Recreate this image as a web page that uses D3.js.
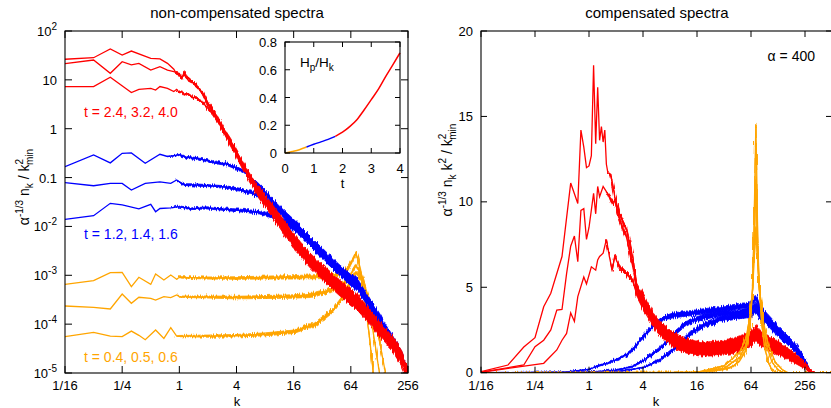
<!DOCTYPE html>
<html>
<head>
<meta charset="utf-8">
<script src="https://cdn.jsdelivr.net/npm/d3@7"></script>
<style>
  body { margin: 0; background: #fff; }
  svg { display: block; font-family: "Liberation Sans", Arial, sans-serif; }
</style>
</head>
<body>
<svg id="chart" width="831" height="408"></svg>
<script>
// ---- axis ticks / labels ----
const kTicks = [1/16, 1/4, 1, 4, 16, 64, 256]
const kLabels = ['1/16', '1/4', '1', '4', '16', '64', '256']
const leftYTicks = [1e2, 10, 1, 0.1, 1e-2, 1e-3, 1e-4, 1e-5]
const leftYBase = ['10', '10', '1', '0.1', '10', '10', '10', '10']
const leftYExp = ['2', '', '', '', '-2', '-3', '-4', '-5']
const rightYTicks = [0, 5, 10, 15, 20]
const insetXTicks = [0, 1, 2, 3, 4]
const insetYTicks = [0, 0.2, 0.4, 0.6, 0.8]
const insetYLabels = ['0', '0.2', '0.4', '0.6', '0.8']
const timeLabels = ['t = 2.4, 3.2, 4.0', 't = 1.2, 1.4, 1.6', 't = 0.4, 0.5, 0.6']

// ---- non-compensated spectra: [k, value, relative noise] ----
const leftRed = [
  [[1/16,26.4,0],[2/16,28.4,0],[3/16,42.8,0],[4/16,32.2,0],[5/16,38.9,0],[8/16,27.6,0],[10/16,26.8,0],[12/16,21.8,0],[14/16,16.5,0],[15/16,13,0],[16/16,12.5,0.02],[17/16,10.5,0.02],[18/16,14.7,0.02],[19/16,10.8,0.03],[20/16,11.2,0.03],[22/16,8.8,0.04],[24/16,8.2,0.04],[26/16,6.3,0.05],[28/16,5.6,0.05],[32/16,3.3,0.06],[36/16,2.4,0.07],[40/16,1.75,0.08],[48/16,0.9,0.1],[56/16,0.55,0.12],[64/16,0.34,0.13],[80/16,0.15,0.15],[112/16,0.052,0.17],[10,0.021,0.19],[16,0.0058,0.22],[24,0.0023,0.22],[36,0.0011,0.24],[50,6.2e-4,0.24],[73,3.4e-4,0.24],[100,1.7e-4,0.24],[130,8.8e-5,0.24],[180,4.3e-5,0.24],[220,2.3e-5,0.24],[256,1.1e-5,0.2]],
  [[1/16,21.4,0],[2/16,25.5,0],[3/16,13.6,0],[4/16,23.5,0],[5/16,20.2,0],[6/16,21.8,0],[8/16,15.9,0],[10/16,18.6,0],[12/16,15.9,0],[14/16,14.7,0],[16/16,13.4,0.02],[17/16,11.2,0.02],[18/16,12.6,0.02],[20/16,9.6,0.03],[22/16,8.9,0.04],[24/16,7.3,0.04],[26/16,6.6,0.05],[28/16,5.2,0.05],[32/16,3.1,0.06],[36/16,2.3,0.07],[40/16,1.6,0.08],[48/16,0.85,0.1],[56/16,0.52,0.12],[64/16,0.32,0.13],[80/16,0.14,0.15],[112/16,0.047,0.17],[10,0.019,0.19],[16,0.0051,0.22],[24,0.002,0.22],[36,9.6e-4,0.24],[50,5.4e-4,0.24],[73,3e-4,0.24],[100,1.5e-4,0.24],[130,7.7e-5,0.24],[180,3.8e-5,0.24],[220,2e-5,0.24],[256,1e-5,0.2]],
  [[1/16,7.26,0],[2/16,7.26,0],[3/16,11.3,0],[5/16,5.5,0],[6/16,6.4,0],[8/16,6.7,0],[9/16,6.2,0],[10/16,7.3,0],[12/16,6.7,0],[14/16,5.75,0],[15/16,6.4,0],[16/16,5.5,0.02],[17/16,5.9,0.02],[18/16,4.9,0.02],[20/16,5.2,0.03],[22/16,4.3,0.04],[24/16,4.4,0.04],[26/16,3.8,0.05],[28/16,3.5,0.05],[32/16,2.6,0.06],[36/16,2.0,0.07],[40/16,1.5,0.08],[48/16,0.8,0.1],[56/16,0.48,0.12],[64/16,0.3,0.13],[80/16,0.13,0.15],[112/16,0.043,0.17],[10,0.017,0.19],[16,0.0045,0.22],[24,0.0018,0.22],[36,8.6e-4,0.24],[50,4.8e-4,0.24],[73,2.7e-4,0.24],[100,1.35e-4,0.24],[130,7e-5,0.24],[180,3.4e-5,0.24],[220,1.8e-5,0.24],[256,9e-6,0.2]]
]
const leftBlue = [
  [[1/16,0.167,0],[2/16,0.29,0],[3/16,0.2,0],[4/16,0.314,0],[5/16,0.32,0],[7/16,0.196,0],[10/16,0.3,0],[12/16,0.27,0],[16/16,0.29,0.03],[1.2,0.26,0.04],[1.4,0.25,0.05],[1.7,0.235,0.05],[2.1,0.215,0.05],[2.6,0.2,0.06],[3.1,0.19,0.06],[3.8,0.165,0.07],[4.7,0.135,0.07],[5.5,0.105,0.08],[7,0.066,0.1],[8.3,0.046,0.11],[11,0.024,0.14],[16,0.012,0.17],[24,0.0052,0.19],[32,0.003,0.2],[48,0.0014,0.2],[64,8.6e-4,0.2],[72,8e-4,0.22],[90,4e-4,0.2],[128,1.4e-4,0.2],[180,4.5e-5,0.2],[220,2.3e-5,0.2],[256,1.1e-5,0.18]],
  [[1/16,0.0787,0],[2/16,0.068,0],[3/16,0.076,0],[4/16,0.076,0],[5/16,0.0557,0],[7/16,0.076,0],[10/16,0.082,0],[13/16,0.076,0],[15/16,0.089,0],[1.1,0.072,0.04],[1.4,0.071,0.05],[2.1,0.068,0.05],[3.1,0.064,0.06],[4.7,0.055,0.07],[7,0.042,0.09],[9,0.03,0.11],[12,0.019,0.14],[16,0.0115,0.17],[24,0.0049,0.19],[32,0.0028,0.2],[48,0.0013,0.2],[64,8e-4,0.2],[72,7.2e-4,0.22],[90,3.8e-4,0.2],[128,1.3e-4,0.2],[180,4.2e-5,0.2],[220,2.2e-5,0.2],[256,1.05e-5,0.18]],
  [[1/16,0.014,0],[2/16,0.0166,0],[3/16,0.0297,0],[4/16,0.0275,0],[6/16,0.0228,0],[8/16,0.0284,0],[9/16,0.02,0],[10/16,0.0233,0],[13/16,0.024,0],[1,0.0254,0.03],[1.3,0.023,0.04],[2,0.024,0.05],[4,0.0215,0.06],[7,0.0195,0.08],[10,0.016,0.1],[14,0.0115,0.13],[20,0.0068,0.16],[32,0.0027,0.2],[48,0.0013,0.2],[64,7.6e-4,0.2],[72,6.6e-4,0.22],[90,3.6e-4,0.2],[128,1.25e-4,0.2],[180,4e-5,0.2],[220,2.1e-5,0.2],[256,1e-5,0.18]]
]
const leftOrange = [
  [[1/16,6.5e-4,0],[2/16,7.75e-4,0],[3/16,1.13e-3,0],[4/16,1.14e-3,0],[5/16,5.85e-4,0],[6/16,9.1e-4,0],[8/16,6.5e-4,0],[9/16,1.06e-3,0],[11/16,8e-4,0],[13/16,1.01e-3,0],[15/16,8.3e-4,0],[1,9.1e-4,0.03],[2,8.8e-4,0.05],[4,8.8e-4,0.06],[8,9e-4,0.07],[16,9.1e-4,0.08],[32,9.5e-4,0.1],[48,1.05e-3,0.1],[60,1.4e-3,0.1],[67,2.1e-3,0.08],[72,2.8e-3,0.07],[76,2.2e-3,0.07],[82,1.1e-3,0.07],[90,3e-4,0.05],[100,6e-5,0.05],[108,1.5e-5,0.03],[115,5e-6,0]],
  [[1/16,2.35e-4,0],[2/16,2.2e-4,0],[3/16,2.04e-4,0],[4/16,4.14e-4,0],[5/16,2.67e-4,0],[6/16,3.55e-4,0],[8/16,3.38e-4,0],[9/16,3.1e-4,0],[11/16,3.65e-4,0],[13/16,3.5e-4,0],[15/16,3.95e-4,0],[1,3.65e-4,0.03],[2,3.6e-4,0.05],[4,3.5e-4,0.06],[8,3.6e-4,0.07],[16,3.7e-4,0.08],[24,3.9e-4,0.1],[40,5e-4,0.1],[50,6e-4,0.1],[58,8e-4,0.1],[66,1.2e-3,0.08],[72,1.6e-3,0.07],[78,1.3e-3,0.07],[88,7e-4,0.07],[100,2.2e-4,0.05],[115,4e-5,0.04],[128,1e-5,0.03],[135,5e-6,0]],
  [[1/16,5.55e-5,0],[2/16,6.8e-5,0],[3/16,5.7e-5,0],[4/16,5.55e-5,0],[5/16,7.2e-5,0],[6/16,5.9e-5,0],[7/16,4.8e-5,0],[9/16,7.6e-5,0],[11/16,5.1e-5,0],[13/16,8.5e-5,0],[15/16,5.7e-5,0],[1,5.7e-5,0.03],[2,5.7e-5,0.05],[4,5.8e-5,0.06],[8,6.2e-5,0.07],[16,7e-5,0.08],[28,1.05e-4,0.1],[42,1.95e-4,0.1],[53,3.6e-4,0.1],[62,7e-4,0.08],[70,1.1e-3,0.07],[76,1.1e-3,0.07],[90,6e-4,0.07],[110,1.8e-4,0.05],[130,4e-5,0.04],[148,1e-5,0.03],[160,4e-6,0]]
]

// ---- compensated spectra: [k, value, absolute noise] ----
const rightRed = [
  [[1/16,0.06,0],[2/16,0.45,0],[3/16,1.5,0],[4/16,2.05,0],[5/16,3.86,0],[6/16,4.65,0],[8/16,6.8,0],[10/16,11.1,0],[12/16,9.9,0],[13/16,14.2,0],[14/16,13.2,0],[15/16,12.0,0],[16/16,12.1,0],[17/16,12.7,0],[18/16,18.0,0],[19/16,13.4,0],[20/16,16.7,0],[21/16,13.6,0],[22/16,14.4,0],[23/16,13.5,0],[24/16,14.2,0],[25/16,12.2,0],[26/16,11.7,0],[28/16,11.6,0.08],[31/16,10.3,0.08],[35/16,9.3,0.1],[42/16,8.4,0.12],[49/16,6.8,0.15],[3.4,5.1,0.15],[4,4.4,0.18],[5.2,3.3,0.2],[6,2.85,0.2],[8,2.3,0.2],[10,2.0,0.2],[12,1.8,0.2],[16,1.65,0.2],[20,1.6,0.2],[28,1.65,0.2],[40,1.8,0.22],[55,2.05,0.22],[66,2.3,0.22],[73,2.6,0.22],[80,2.3,0.22],[103,1.9,0.22],[130,1.62,0.22],[157,1.3,0.2],[200,0.95,0.18],[240,0.62,0.15],[270,0.33,0.12],[300,0.06,0.04],[330,0,0],[512,0,0]],
  [[1/16,0.03,0],[3/16,0.45,0],[4/16,1.52,0],[5/16,1.9,0],[6/16,2.5,0],[7/16,3.67,0],[8/16,3.7,0],[9/16,5.8,0],[10/16,7.4,0],[11/16,8.0,0],[12/16,6.5,0],[13/16,9.5,0],[14/16,9.6,0],[15/16,7.8,0],[16/16,8.5,0],[18/16,10.5,0],[19/16,9.3,0],[20/16,10.9,0],[21/16,10.3,0],[23/16,10.9,0],[25/16,10.6,0],[27/16,10.3,0.08],[29/16,9.9,0.08],[31/16,10.1,0.08],[35/16,9.0,0.1],[42/16,7.9,0.12],[49/16,6.4,0.15],[3.4,4.9,0.15],[4,4.15,0.18],[5.2,3.1,0.2],[6,2.65,0.2],[8,2.05,0.2],[10,1.75,0.2],[12,1.58,0.2],[16,1.42,0.2],[20,1.38,0.2],[28,1.42,0.2],[40,1.58,0.22],[55,1.82,0.22],[66,2.05,0.22],[73,2.35,0.22],[80,2.05,0.22],[103,1.68,0.22],[130,1.42,0.22],[157,1.14,0.2],[200,0.83,0.18],[240,0.53,0.15],[270,0.27,0.12],[300,0.05,0.04],[330,0,0],[512,0,0]],
  [[1/16,0.02,0],[5/16,0.55,0],[7/16,1.33,0],[8/16,1.9,0],[9/16,2.3,0],[10/16,3.5,0],[11/16,3.0,0],[12/16,4.45,0],[14/16,5.6,0],[15/16,5.2,0],[17/16,6.2,0],[19/16,6.0,0],[20/16,6.6,0],[21/16,6.8,0],[23/16,7.0,0],[25/16,7.8,0],[27/16,6.8,0.08],[29/16,6.0,0.08],[31/16,6.8,0.08],[35/16,6.2,0.1],[42/16,5.8,0.12],[49/16,5.4,0.15],[3.4,4.6,0.15],[4,3.9,0.18],[5.2,2.9,0.2],[6,2.45,0.2],[8,1.8,0.2],[10,1.52,0.2],[12,1.36,0.2],[16,1.2,0.2],[20,1.17,0.2],[28,1.2,0.2],[40,1.34,0.22],[55,1.58,0.22],[66,1.8,0.22],[73,2.05,0.22],[80,1.8,0.22],[103,1.48,0.22],[130,1.25,0.22],[157,1.0,0.2],[200,0.72,0.18],[240,0.46,0.15],[270,0.23,0.12],[300,0.04,0.04],[330,0,0],[512,0,0]]
]
const rightBlue = [
  [[1/16,0,0],[0.5,0.02,0],[1,0.2,0.02],[1.3,0.42,0.04],[1.7,0.6,0.05],[2.2,0.85,0.07],[2.6,1.05,0.08],[3.1,1.35,0.09],[3.7,1.9,0.1],[4.4,2.35,0.11],[5.6,2.9,0.12],[7,3.2,0.13],[8.6,3.35,0.14],[12,3.45,0.15],[20,3.6,0.15],[32,3.75,0.15],[47,3.9,0.15],[60,3.95,0.15],[68,4.15,0.15],[73,4.4,0.15],[80,3.85,0.15],[90,3.5,0.15],[110,3.0,0.15],[132,2.5,0.15],[170,1.95,0.14],[204,1.5,0.14],[240,0.95,0.12],[270,0.45,0.08],[290,0.12,0.04],[310,0,0],[512,0,0]],
  [[1/16,0,0],[1,0.03,0.01],[2,0.15,0.03],[3,0.35,0.04],[4,0.7,0.07],[6,1.35,0.1],[8.6,2.2,0.12],[11,2.7,0.13],[13.5,3.0,0.14],[20,3.3,0.15],[30,3.45,0.15],[50,3.55,0.15],[65,3.7,0.15],[73,4.0,0.15],[80,3.6,0.15],[90,3.3,0.15],[132,2.35,0.15],[170,1.8,0.14],[204,1.4,0.14],[250,0.8,0.12],[286,0.15,0.04],[310,0,0],[512,0,0]],
  [[1/16,0,0],[2,0.05,0.01],[4,0.3,0.03],[6,0.7,0.07],[8.6,1.33,0.1],[11,1.85,0.12],[13.5,2.3,0.13],[20,2.85,0.15],[30,3.15,0.15],[47,3.3,0.15],[65,3.4,0.15],[73,3.7,0.15],[80,3.3,0.15],[90,3.1,0.15],[132,2.2,0.15],[170,1.7,0.14],[204,1.3,0.14],[250,0.75,0.12],[286,0.12,0.04],[310,0,0],[512,0,0]]
]
const rightOrange = [
  [[1/16,0,0],[8,0.01,0],[16,0.05,0.01],[24,0.1,0.02],[32,0.2,0.03],[40,0.35,0.04],[48,0.7,0.05],[56,1.3,0.06],[62,2.5,0.08],[66,4.5,0.1],[69,8,0.12],[71,12,0.12],[72.5,14.5,0.12],[74,12,0.12],[76,8,0.12],[79,5,0.1],[84,3,0.08],[90,1.6,0.06],[100,0.6,0.04],[110,0.15,0.02],[125,0,0],[512,0,0]],
  [[1/16,0,0],[16,0.03,0.01],[32,0.25,0.03],[48,0.9,0.05],[56,1.6,0.06],[62,2.8,0.08],[67,5,0.1],[70,8,0.12],[72.5,11.3,0.12],[75,8,0.12],[78,5.5,0.1],[85,3.2,0.08],[95,1.6,0.06],[110,0.6,0.04],[130,0.15,0.02],[145,0,0],[512,0,0]],
  [[1/16,0,0],[16,0.02,0.01],[32,0.4,0.03],[48,1.2,0.05],[56,2.0,0.06],[62,3.2,0.08],[67,5,0.1],[70,7,0.12],[72.5,8.5,0.12],[75,7,0.12],[79,5,0.1],[88,3,0.08],[100,1.6,0.06],[120,0.6,0.04],[145,0.15,0.02],[165,0,0],[512,0,0]]
]

// ---- inset: H_p / H_k against t ----
const hpTime = [0, 0.25, 0.5, 0.75, 1, 1.25, 1.5, 1.75, 2, 2.25, 2.5, 2.75, 3, 3.25, 3.5, 3.75, 4]
const hpRatio = [0, 0.011, 0.024, 0.043, 0.063, 0.08, 0.098, 0.12, 0.15, 0.19, 0.24, 0.31, 0.385, 0.46, 0.55, 0.635, 0.722]
const hpPhaseEnd = [0.75, 1.75, 4]

const RED = '#ff0000', BLUE = '#0000ff', ORANGE = '#ffa500'
const svg = d3.select('#chart')

// jitter filter so the bands read as noisy spectra instead of smooth ribbons
const filt = svg.append('defs').append('filter').attr('id', 'jitter')
  .attr('filterUnits', 'userSpaceOnUse').attr('x', 0).attr('y', 0).attr('width', 831).attr('height', 408)
filt.append('feTurbulence').attr('type', 'fractalNoise').attr('baseFrequency', '0.9 0.06')
  .attr('numOctaves', 1).attr('seed', 4).attr('result', 'noise')
filt.append('feDisplacementMap').attr('in', 'SourceGraphic').attr('in2', 'noise')
  .attr('scale', 6).attr('xChannelSelector', 'B').attr('yChannelSelector', 'G')

// draws a box with inward ticks on all four sides
function drawFrame(g, x0, x1, y0, y1, xs, ys, len) {
  g.append('rect').attr('x', x0).attr('y', y0).attr('width', x1 - x0).attr('height', y1 - y0)
    .attr('fill', 'none').attr('stroke', '#000').attr('stroke-width', 1.1)
  xs.forEach(px => {
    g.append('line').attr('x1', px).attr('x2', px).attr('y1', y1).attr('y2', y1 - len).attr('stroke', '#000')
    g.append('line').attr('x1', px).attr('x2', px).attr('y1', y0).attr('y2', y0 + len).attr('stroke', '#000')
  })
  ys.forEach(py => {
    g.append('line').attr('x1', x0).attr('x2', x0 + len).attr('y1', py).attr('y2', py).attr('stroke', '#000')
    g.append('line').attr('x1', x1).attr('x2', x1 - len).attr('y1', py).attr('y2', py).attr('stroke', '#000')
  })
}

// noisy spectrum = jittered band for the scatter plus the centre line
function drawSpectrum(g, data, color, x, y, lo, hi) {
  const first = Math.max(0, data.findIndex(d => d[2] > 0) - 1)
  const noisy = data.slice(first)
  const band = d3.area().x(d => x(d[0])).y0(d => y(lo(d))).y1(d => y(hi(d)))
  g.append('path').attr('d', band(noisy)).attr('fill', color).attr('stroke', color)
    .attr('stroke-width', 0.8).attr('filter', 'url(#jitter)')
  const line = d3.line().x(d => x(d[0])).y(d => y(d[1]))
  g.append('path').attr('d', line(data)).attr('fill', 'none').attr('stroke', color).attr('stroke-width', 1.3)
}

// ================= left panel =================
const xL = d3.scaleLog().base(2).domain([1/16, 256]).range([65, 408])
const yL = d3.scaleLog().domain([1e-5, 100]).range([373, 31])

svg.append('clipPath').attr('id', 'clipL').append('rect').attr('x', 65).attr('y', 31).attr('width', 343).attr('height', 342)
const gL = svg.append('g').attr('clip-path', 'url(#clipL)')
const relLo = d => d[1] * (1 - d[2])
const relHi = d => d[1] * (1 + d[2])
leftOrange.forEach(s => drawSpectrum(gL, s, ORANGE, xL, yL, relLo, relHi))
leftBlue.forEach(s => drawSpectrum(gL, s, BLUE, xL, yL, relLo, relHi))
leftRed.forEach(s => drawSpectrum(gL, s, RED, xL, yL, relLo, relHi))

drawFrame(svg, 65, 408, 31, 373, kTicks.map(xL), leftYTicks.map(yL), 7)

svg.append('text').attr('x', 237).attr('y', 18).attr('text-anchor', 'middle').style('font-size', '15px').text('non-compensated spectra')
svg.append('text').attr('x', 237).attr('y', 406).attr('text-anchor', 'middle').style('font-size', '13px').text('k')

kTicks.forEach((k, i) => {
  svg.append('text').attr('x', xL(k)).attr('y', 390).attr('text-anchor', 'middle').style('font-size', '13px').text(kLabels[i])
})
leftYTicks.forEach((v, i) => {
  const t = svg.append('text').attr('x', 57).attr('y', yL(v) + 5).attr('text-anchor', 'end').style('font-size', '13px')
  t.append('tspan').text(leftYBase[i])
  if (leftYExp[i]) t.append('tspan').attr('dy', -6).style('font-size', '10px').text(leftYExp[i])
})

// rotated y label
const yl = svg.append('text').attr('transform', 'translate(29,187) rotate(-90)').attr('text-anchor', 'middle').style('font-size', '14px')
yl.append('tspan').text('α')
yl.append('tspan').attr('dy', -6).style('font-size', '10px').text('-1/3')
yl.append('tspan').attr('dy', 6).text(' n')
yl.append('tspan').attr('dy', 4).style('font-size', '10px').text('k')
yl.append('tspan').attr('dy', -4).text(' / k')
yl.append('tspan').attr('dy', -6).style('font-size', '10px').text('2')
yl.append('tspan').attr('dx', -6).attr('dy', 10).style('font-size', '10px').text('min')

const labelColors = [RED, BLUE, ORANGE]
const labelY = [117, 239, 362]
timeLabels.forEach((s, i) => {
  svg.append('text').attr('x', 84).attr('y', labelY[i]).attr('fill', labelColors[i]).style('font-size', '14px').text(s)
})

// ---- inset ----
const xI = d3.scaleLinear().domain([0, 4]).range([285, 400])
const yI = d3.scaleLinear().domain([0, 0.8]).range([153, 42])
svg.append('rect').attr('x', 285).attr('y', 42).attr('width', 115).attr('height', 111).attr('fill', '#fff')
const hp = hpTime.map((t, i) => [t, hpRatio[i]])
const phaseColors = [ORANGE, BLUE, RED]
let start = 0
hpPhaseEnd.forEach((end, i) => {
  const seg = hp.filter(d => d[0] >= start && d[0] <= end)
  svg.append('path').attr('d', d3.line().x(d => xI(d[0])).y(d => yI(d[1])).curve(d3.curveMonotoneX)(seg))
    .attr('fill', 'none').attr('stroke', phaseColors[i]).attr('stroke-width', 1.5)
  start = end
})
drawFrame(svg, 285, 400, 42, 153, insetXTicks.map(xI), insetYTicks.map(yI), 5)
insetXTicks.forEach(t => {
  svg.append('text').attr('x', xI(t)).attr('y', 173).attr('text-anchor', 'middle').style('font-size', '13px').text(t)
})
insetYTicks.forEach((v, i) => {
  svg.append('text').attr('x', 277).attr('y', yI(v) + 5).attr('text-anchor', 'end').style('font-size', '13px').text(insetYLabels[i])
})
svg.append('text').attr('x', xI(2)).attr('y', 188).attr('text-anchor', 'middle').style('font-size', '13px').text('t')
const hl = svg.append('text').attr('x', 300).attr('y', 67).style('font-size', '13.5px')
hl.append('tspan').text('H')
hl.append('tspan').attr('dy', 4).style('font-size', '10px').text('p')
hl.append('tspan').attr('dy', -4).text('/H')
hl.append('tspan').attr('dy', 4).style('font-size', '10px').text('k')

// ================= right panel =================
const xR = d3.scaleLog().base(2).domain([1/16, 512]).range([481, 832])
const yR = d3.scaleLinear().domain([0, 20]).range([372.7, 31])

svg.append('clipPath').attr('id', 'clipR').append('rect').attr('x', 481).attr('y', 31).attr('width', 351).attr('height', 342)
const gR = svg.append('g').attr('clip-path', 'url(#clipR)')
const absLo = d => Math.max(0, d[1] - d[2])
const absHi = d => d[1] + d[2]
rightBlue.forEach(s => drawSpectrum(gR, s, BLUE, xR, yR, absLo, absHi))
rightRed.forEach(s => drawSpectrum(gR, s, RED, xR, yR, absLo, absHi))
rightOrange.forEach(s => drawSpectrum(gR, s, ORANGE, xR, yR, absLo, absHi))

drawFrame(svg, 481, 832, 31, 372.7, kTicks.map(xR), rightYTicks.map(yR), 6)

svg.append('text').attr('x', 657).attr('y', 18).attr('text-anchor', 'middle').style('font-size', '15px').text('compensated spectra')
svg.append('text').attr('x', 656).attr('y', 406).attr('text-anchor', 'middle').style('font-size', '13px').text('k')
kTicks.forEach((k, i) => {
  svg.append('text').attr('x', xR(k)).attr('y', 390).attr('text-anchor', 'middle').style('font-size', '13px').text(kLabels[i])
})
rightYTicks.forEach(v => {
  svg.append('text').attr('x', 473).attr('y', yR(v) + 4.5).attr('text-anchor', 'end').style('font-size', '13px').text(v)
})
svg.append('text').attr('x', 815).attr('y', 61).attr('text-anchor', 'end').style('font-size', '14px').text('α = 400')

const yr = svg.append('text').attr('transform', 'translate(452,170) rotate(-90)').attr('text-anchor', 'middle').style('font-size', '14px')
yr.append('tspan').text('α')
yr.append('tspan').attr('dy', -6).style('font-size', '10px').text('-1/3')
yr.append('tspan').attr('dy', 6).text(' n')
yr.append('tspan').attr('dy', 4).style('font-size', '10px').text('k')
yr.append('tspan').attr('dy', -4).text(' k')
yr.append('tspan').attr('dy', -6).style('font-size', '10px').text('2')
yr.append('tspan').attr('dy', 6).text(' / k')
yr.append('tspan').attr('dy', -6).style('font-size', '10px').text('2')
yr.append('tspan').attr('dx', -6).attr('dy', 10).style('font-size', '10px').text('min')
</script>
</body>
</html>
